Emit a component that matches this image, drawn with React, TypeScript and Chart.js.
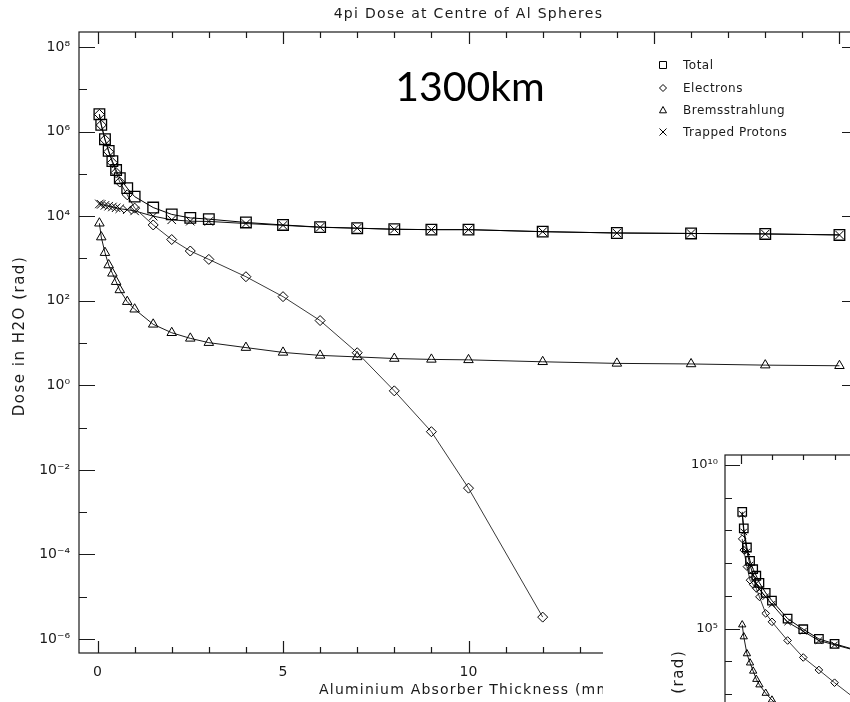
import React, { useEffect, useRef } from 'react';
import { Chart, registerables } from 'chart.js';

Chart.register(...registerables);

// ---------- main chart data (1300 km) ----------
const thickness = [0.05, 0.1, 0.2, 0.3, 0.4, 0.5, 0.6, 0.8, 1, 1.5, 2, 2.5, 3, 4, 5, 6, 7, 8, 9, 10, 12, 14, 16, 18, 20];
const totalDose = [2.57e6, 1.45e6, 6.6e5, 3.5e5, 2.0e5, 1.23e5, 7.9e4, 4.6e4, 2.9e4, 1.6e4, 1.1e4, 9.1e3, 8.5e3, 7.1e3, 6.2e3, 5.5e3, 5.2e3, 4.9e3, 4.8e3, 4.8e3, 4.3e3, 4.0e3, 3.9e3, 3.8e3, 3.6e3];
const electronDose = [2.55e6, 1.43e6, 6.4e5, 3.33e5, 1.84e5, 1.07e5, 6.4e4, 3.2e4, 1.55e4, 6.2e3, 2.8e3, 1.5e3, 950, 370, 125, 34, 5.9, 0.74, 0.08, 3.7e-3, 3.3e-6];
const bremsDose = [6.8e3, 3.2e3, 1.37e3, 700, 445, 282, 180, 95, 63, 27.7, 17.5, 12.9, 10.2, 7.8, 6.0, 5.1, 4.7, 4.3, 4.1, 4.0, 3.6, 3.3, 3.2, 3.0, 2.9];
const protonDose = [1.95e4, 1.9e4, 1.8e4, 1.72e4, 1.65e4, 1.58e4, 1.5e4, 1.42e4, 1.33e4, 1.0e4, 8.2e3, 7.6e3, 7.5e3, 6.7e3, 6.07e3, 5.46e3, 5.19e3, 4.9e3, 4.8e3, 4.8e3, 4.3e3, 4.0e3, 3.9e3, 3.8e3, 3.6e3];

// ---------- inset chart data ----------
const insetThickness = [0.05, 0.1, 0.2, 0.3, 0.4, 0.5, 0.6, 0.8, 1, 1.5, 2, 2.5, 3, 4];
const insetTotal = [3.7e8, 1.15e8, 3.0e7, 1.17e7, 6.5e6, 4.1e6, 2.5e6, 1.23e6, 7.1e5, 2.0e5, 9.5e4, 4.8e4, 3.4e4, 1.8e4];
const insetElectrons = [5.5e7, 2.5e7, 7.8e6, 3.0e6, 2.2e6, 1.7e6, 9.3e5, 2.9e5, 1.6e5, 4.3e4, 1.3e4, 5.4e3, 2.2e3, 400];
const insetBrems = [1.3e5, 5.6e4, 1.7e4, 8.9e3, 5.0e3, 2.8e3, 1.9e3, 1.05e3, 650, 250, 126, 80, 56, 35];
const insetProtons = [3.1e8, 9.0e7, 2.2e7, 8.7e6, 4.3e6, 2.4e6, 1.57e6, 9.4e5, 5.5e5, 1.57e5, 8.2e4, 4.26e4, 3.18e4, 1.76e4];

// ---------- ticks & labels ----------
const yTickExps = [-6, -4, -2, 0, 2, 4, 6, 8];
const xTickValues = [0, 5, 10, 15, 20];
const insetYTickExps = [0, 5, 10];
const seriesNames = ['Total', 'Electrons', 'Bremsstrahlung', 'Trapped Protons'];
const titleText = '4pi Dose at Centre of Al Spheres';
const xTitleText = 'Aluminium Absorber Thickness (mm)';
const yTitleText = 'Dose in H2O (rad)';
const orbitText = '1300km';

const FONT = '"DejaVu Sans", sans-serif';
const INK = '#1a1a1a';
const SUP: Record<string, string> = { '0': '⁰', '1': '¹', '2': '²', '3': '³', '4': '⁴', '5': '⁵', '6': '⁶', '7': '⁷', '8': '⁸', '9': '⁹', '-': '⁻' };
const pow10Label = (e: number) => '10' + String(e).split('').map((c) => SUP[c]).join('');

const styles = ['rect', 'rectRot', 'triangle', 'crossRot'];
const colors = ['#000', '#3a3a3a', '#1a1a1a', '#111'];

function drawMarker(ctx: CanvasRenderingContext2D, style: string, x: number, y: number, s: number) {
  ctx.beginPath();
  if (style === 'rect') {
    ctx.rect(x - s, y - s, 2 * s, 2 * s);
  } else if (style === 'rectRot') {
    ctx.moveTo(x, y - s); ctx.lineTo(x + s, y); ctx.lineTo(x, y + s); ctx.lineTo(x - s, y); ctx.closePath();
  } else if (style === 'triangle') {
    ctx.moveTo(x, y - s); ctx.lineTo(x + s, y + s * 0.8); ctx.lineTo(x - s, y + s * 0.8); ctx.closePath();
  } else {
    ctx.moveTo(x - s, y - s); ctx.lineTo(x + s, y + s); ctx.moveTo(x + s, y - s); ctx.lineTo(x - s, y + s);
  }
  ctx.stroke();
}

function spacedText(ctx: any, text: string, x: number, y: number, spacing: number) {
  ctx.letterSpacing = `${spacing}px`;
  ctx.fillText(text, x, y);
  ctx.letterSpacing = '0px';
}

const mainDecor = {
  id: 'mainDecor',
  afterDraw(chart: any) {
    const ctx: CanvasRenderingContext2D = chart.ctx;
    const { left, right, top, bottom } = chart.chartArea;
    const xs = chart.scales.x;
    const ys = chart.scales.y;
    ctx.save();
    ctx.strokeStyle = INK;
    ctx.lineWidth = 1.2;
    ctx.strokeRect(left, top, right - left, bottom - top);
    ctx.beginPath();
    for (let v = 0; v <= 20; v++) {
      const px = Math.round(xs.getPixelForValue(v)) + 0.5;
      const len = v % 5 === 0 ? 12 : 6;
      ctx.moveTo(px, bottom); ctx.lineTo(px, bottom - len);
      ctx.moveTo(px, top); ctx.lineTo(px, top + len);
    }
    for (let e = -6; e <= 8; e++) {
      const py = Math.round(ys.getPixelForValue(Math.pow(10, e))) + 0.5;
      const len = e % 2 === 0 ? 16 : 8;
      ctx.moveTo(left, py); ctx.lineTo(left + len, py);
      ctx.moveTo(right, py); ctx.lineTo(right - len, py);
    }
    ctx.stroke();

    ctx.fillStyle = INK;
    ctx.textAlign = 'center';
    ctx.textBaseline = 'middle';
    ctx.font = `14px ${FONT}`;
    spacedText(ctx, titleText, (left + right) / 2, 14, 1.3);
    ctx.font = `14px ${FONT}`;
    spacedText(ctx, xTitleText, (left + right) / 2, 690, 1.2);
    ctx.save();
    ctx.translate(20, 336);
    ctx.rotate(-Math.PI / 2);
    ctx.font = `15px ${FONT}`;
    spacedText(ctx, yTitleText, 0, 0, 1.5);
    ctx.restore();

    ctx.font = `41px Lato, "Open Sans", sans-serif`;
    ctx.fillStyle = '#000';
    ctx.fillText(orbitText, 470, 88);

    // legend
    ctx.font = `12px ${FONT}`;
    ctx.textAlign = 'left';
    ctx.lineWidth = 1;
    const rows = [65, 88, 110, 132];
    seriesNames.forEach((name, i) => {
      ctx.strokeStyle = '#000';
      drawMarker(ctx, styles[i], 663, rows[i], 3.5);
      ctx.fillStyle = INK;
      spacedText(ctx, name, 683, rows[i] + 1, 0.5);
    });
    ctx.restore();
  },
};

const insetDecor = {
  id: 'insetDecor',
  afterDraw(chart: any) {
    const ctx: CanvasRenderingContext2D = chart.ctx;
    const { left, right, top, bottom } = chart.chartArea;
    const xs = chart.scales.x;
    const ys = chart.scales.y;
    ctx.save();
    ctx.strokeStyle = INK;
    ctx.lineWidth = 1.2;
    ctx.strokeRect(left, top, right - left, bottom - top);
    ctx.beginPath();
    for (let v = 0; v <= 20; v++) {
      const px = Math.round(xs.getPixelForValue(v)) + 0.5;
      const len = v % 5 === 0 ? 9 : 5;
      ctx.moveTo(px, top); ctx.lineTo(px, top + len);
    }
    for (let e = -1; e <= 10; e++) {
      const py = Math.round(ys.getPixelForValue(Math.pow(10, e))) + 0.5;
      const len = e % 5 === 0 ? 15 : 7;
      ctx.moveTo(left, py); ctx.lineTo(left + len, py);
    }
    ctx.stroke();
    ctx.fillStyle = INK;
    ctx.font = `15px ${FONT}`;
    ctx.textAlign = 'center';
    ctx.textBaseline = 'middle';
    ctx.save();
    ctx.translate(76, 290);
    ctx.rotate(-Math.PI / 2);
    spacedText(ctx, yTitleText, 0, 0, 1.5);
    ctx.restore();
    ctx.restore();
  },
};

function makeDatasets(xv: number[], series: number[][], sizes: number[]) {
  return series.map((vals, i) => ({
    label: seriesNames[i],
    data: vals.map((v, k) => ({ x: xv[k], y: v })),
    borderColor: colors[i],
    borderWidth: 1,
    pointStyle: styles[i],
    pointRadius: sizes[i],
    pointBorderColor: '#000',
    pointBorderWidth: i === 0 ? 1.3 : 1,
    pointBackgroundColor: 'rgba(0,0,0,0)',
    tension: 0,
  }));
}

export default function App() {
  const mainRef = useRef<HTMLCanvasElement>(null);
  const insetRef = useRef<HTMLCanvasElement>(null);

  useEffect(() => {
    const main = new Chart(mainRef.current!, {
      type: 'line',
      data: {
        datasets: makeDatasets(thickness, [totalDose, electronDose, bremsDose, protonDose], [7.5, 5, 5.5, 6]) as any,
      },
      options: {
        animation: false,
        responsive: false,
        events: [],
        layout: { padding: 0 },
        plugins: { legend: { display: false }, tooltip: { enabled: false }, title: { display: false } },
        scales: {
          x: {
            type: 'linear', position: 'bottom', min: -0.5, max: 20.5,
            grid: { display: false, drawTicks: false }, border: { display: false },
            afterBuildTicks: (s: any) => { s.ticks = xTickValues.map((v) => ({ value: v })); },
            afterFit: (s: any) => { s.height = 49; },
            ticks: { color: INK, font: { size: 14, family: FONT }, padding: 11, maxRotation: 0, callback: (v: any) => String(v) },
          },
          xTop: {
            type: 'linear', position: 'top', min: -0.5, max: 20.5,
            grid: { display: false, drawTicks: false }, border: { display: false },
            ticks: { display: false },
            afterFit: (s: any) => { s.height = 32; },
          },
          y: {
            type: 'logarithmic', position: 'left', min: Math.pow(10, -6.33), max: Math.pow(10, 8.355),
            grid: { display: false, drawTicks: false }, border: { display: false },
            afterBuildTicks: (s: any) => { s.ticks = yTickExps.map((e) => ({ value: Math.pow(10, e) })); },
            afterFit: (s: any) => { s.width = 79; },
            ticks: { color: INK, font: { size: 14, family: FONT }, padding: 9, callback: (v: any) => pow10Label(Math.round(Math.log10(v))) },
          },
          yRight: {
            type: 'logarithmic', position: 'right', min: Math.pow(10, -6.33), max: Math.pow(10, 8.355),
            grid: { display: false, drawTicks: false }, border: { display: false },
            ticks: { display: false },
            afterFit: (s: any) => { s.width = 22; },
          },
        },
      } as any,
      plugins: [mainDecor],
    });

    const inset = new Chart(insetRef.current!, {
      type: 'line',
      data: {
        datasets: makeDatasets(insetThickness, [insetTotal, insetElectrons, insetBrems, insetProtons], [6, 3.8, 4.2, 4.5]) as any,
      },
      options: {
        animation: false,
        responsive: false,
        events: [],
        layout: { padding: { left: 0, top: 0, right: 20.7, bottom: 15.3 } },
        plugins: { legend: { display: false }, tooltip: { enabled: false }, title: { display: false } },
        scales: {
          x: {
            type: 'linear', position: 'top', min: -0.5, max: 20.5,
            grid: { display: false, drawTicks: false }, border: { display: false },
            ticks: { display: false },
            afterFit: (s: any) => { s.height = 15; },
          },
          y: {
            type: 'logarithmic', position: 'left', min: Math.pow(10, -1), max: Math.pow(10, 10.306),
            grid: { display: false, drawTicks: false }, border: { display: false },
            afterBuildTicks: (s: any) => { s.ticks = insetYTickExps.map((e) => ({ value: Math.pow(10, e) })); },
            afterFit: (s: any) => { s.width = 122; },
            ticks: { color: INK, font: { size: 13, family: FONT }, padding: 7, callback: (v: any) => pow10Label(Math.round(Math.log10(v))) },
          },
        },
      } as any,
      plugins: [insetDecor],
    });

    return () => {
      main.destroy();
      inset.destroy();
    };
  }, []);

  return (
    <div style={{ position: 'absolute', left: 0, top: 0, width: 850, height: 702, overflow: 'hidden', background: '#fff' }}>
      <canvas ref={mainRef} width={880} height={702} style={{ position: 'absolute', left: 0, top: 0 }} />
      <canvas ref={insetRef} width={800} height={400} style={{ position: 'absolute', left: 603, top: 440, background: '#fff' }} />
    </div>
  );
}
